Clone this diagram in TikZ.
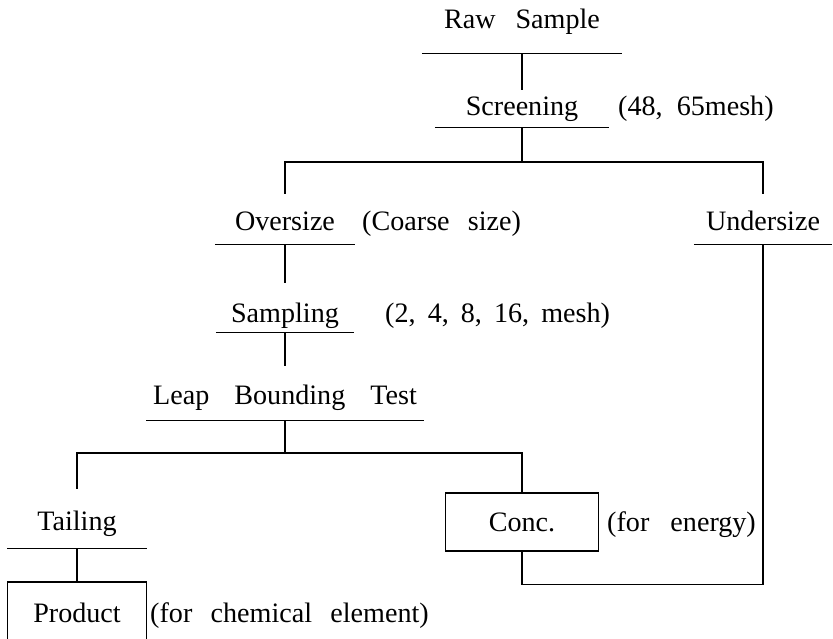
\documentclass[tikz,border=0pt]{standalone}
\usepackage{fontspec}
\setmainfont{Liberation Serif}[WordSpace=2.6]
\usepackage{tikz}
\newcommand\wgap[2]{{\spaceskip=#1\relax #2}}
\tikzset{
  stage/.style={anchor=base, inner sep=0pt, font=\fontsize{24}{28}\selectfont},
  remark/.style={anchor=base west, inner sep=0pt, font=\fontsize{24}{28}\selectfont},
  outbox/.style={rectangle, draw, inner sep=0pt, line width=1.1pt,
    font=\fontsize{24}{28}\selectfont},
  link/.style={line width=1.1pt}
}

\begin{document}
\begin{tikzpicture}[x=0.03cm, y=-0.03cm]
  \useasboundingbox (0,0) rectangle (833,638);
  \clip (0,0) rectangle (833,638);

  % --- Underlined stages ---
  \node[stage, minimum width=6cm, text depth=0.75cm] (raw) at (522,28) {\wgap{0.71em}{Raw Sample}};
  \node[stage, minimum width=5.22cm, text depth=0.36cm] (scr) at (522,115) {Screening};
  \node[stage, minimum width=4.2cm, text depth=0.42cm] (over) at (285,230) {Oversize};
  \node[stage, minimum width=4.14cm, text depth=0.42cm] (under) at (763,230) {Undersize};
  \node[stage, minimum width=4.14cm, text depth=0.3cm] (samp) at (285,322) {Sampling};
  \node[stage, minimum width=8.31cm, text depth=0.48cm] (leap) at (285,404) {\wgap{0.89em}{Leap Bounding Test}};
  \node[stage, minimum width=4.17cm, text depth=0.54cm] (tail) at (77,530) {Tailing};
  \foreach \n in {raw,scr,over,under,samp,leap,tail}
    \draw[link] (\n.south west) -- (\n.south east);

  % --- Boxed outputs ---
  \node[outbox, minimum width=4.59cm, minimum height=1.74cm] (conc) at (522,522) {Conc.};
  \node[outbox, minimum width=4.17cm, minimum height=1.86cm] (prod) at (77,613) {Product};

  % --- Side remarks ---
  \node[remark] (scrnote) at (618,115) {\wgap{0.5em}{(48, 65mesh)}};
  \node[remark] (overnote) at (362,230) {(Coarse size)};
  \node[remark] (sampnote) at (385,322) {\wgap{0.43em}{(2, 4, 8, 16, mesh)}};
  \node[remark] (concnote) at (607,531) {\wgap{0.75em}{(for energy)}};
  \node[remark] (prodnote) at (150,622) {(for chemical element)};

  % --- Connectors ---
  \draw[link, shorten >=0.17cm] (raw.south) -- (scr.north);
  \coordinate (splitA) at (522,162);
  \draw[link] (scr.south) -- (splitA);
  \draw[link, shorten >=0.5cm] (splitA) -| (over.north);
  \draw[link, shorten >=0.5cm] (splitA) -| (under.north);
  \draw[link, shorten >=0.57cm] (over.south) -- (samp.north);
  \draw[link, shorten >=0.54cm] (samp.south) -- (leap.north);
  \coordinate (splitB) at (285,453);
  \draw[link] (leap.south) -- (splitB);
  \draw[link, shorten >=0.63cm] (splitB) -| (tail.north);
  \draw[link] (splitB) -| (conc.north);
  \draw[link] (tail.south) -- (prod.north);
  % return of the concentrate to the undersize line
  \draw[link] (conc.south) -- ++(0,33) -| (under.south);
\end{tikzpicture}
\end{document}
